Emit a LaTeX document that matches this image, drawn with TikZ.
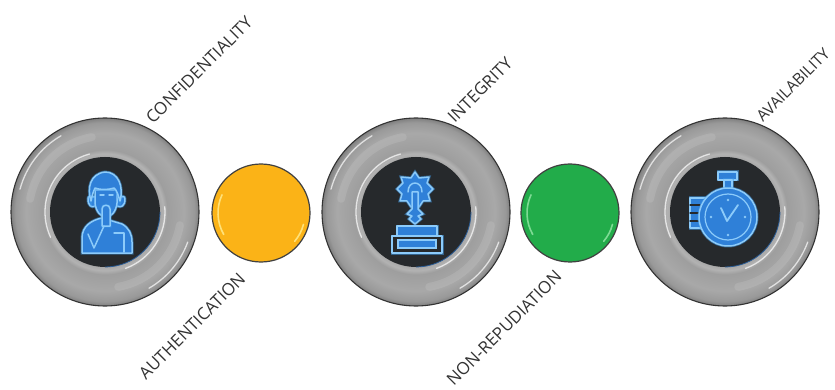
\documentclass[tikz,border=0pt]{standalone}
\usepackage{fontspec}
\usetikzlibrary{calc}
\setmainfont{Open Sans}
\definecolor{hub}{HTML}{26292C}
\definecolor{iconfill}{HTML}{2F80D8}
\definecolor{iconline}{HTML}{8CCBFA}
\definecolor{iconglow}{HTML}{3F9BEA}
\definecolor{amber}{HTML}{FBB317}
\definecolor{amberhi}{HTML}{FFE27A}
\definecolor{leaf}{HTML}{22AC4A}
\definecolor{leafhi}{HTML}{7FDB95}
\definecolor{labelcol}{HTML}{333333}
\definecolor{rimblue}{HTML}{2A5C96}
\pgfdeclareradialshading{ringshade}{\pgfpointorigin}{
  rgb(0bp)=(0.66,0.66,0.66);
  rgb(14.6bp)=(0.66,0.66,0.66);
  rgb(15.5bp)=(0.70,0.70,0.70);
  rgb(16.6bp)=(0.62,0.62,0.62);
  rgb(21bp)=(0.66,0.66,0.66);
  rgb(23.8bp)=(0.60,0.60,0.60);
  rgb(25bp)=(0.50,0.50,0.50);
  rgb(50bp)=(0.50,0.50,0.50)}
\tikzset{
  bigring/.style={circle,minimum size=188pt,inner sep=0pt,shading=ringshade},
  ringedge/.style={circle,draw=black!80,line width=1.1pt,minimum size=188pt,inner sep=0pt},
  hubdisc/.style={circle,draw=none,minimum size=110pt,inner sep=0pt,fill=hub},
  smalldisc/.style={circle,draw=black!75,line width=1.2pt,minimum size=98pt,inner sep=0pt},
  sheen/.style={white,line width=1.3pt,opacity=.7,line cap=round},
  soft/.style={white,line width=8pt,opacity=.10,line cap=round},
  lab/.style={rotate=45,font=\fontsize{17}{18}\selectfont,text=labelcol,inner sep=0pt},
  ico/.style={draw=iconline,fill=iconfill,line width=1.5pt,line join=round,
    preaction={draw=iconglow,line width=3pt,opacity=.5}},
  icol/.style={draw=iconline,line width=1.5pt,line cap=round,line join=round}
}
\newcommand{\ringdeco}[1]{%
  \begin{scope}[shift={(#1)}]
    \draw[soft] (190:76) arc (190:260:76);
    \draw[soft] (10:76) arc (10:80:76);
    \draw[sheen] (155:60) arc (155:255:60);
    \draw[sheen] (-5:60) arc (-5:70:60);
    \draw[sheen] (195:88) arc (195:240:88);
    \draw[sheen] (20:88) arc (20:60:88);
    \draw[rimblue,line width=.8pt] (0:55) arc (0:90:55);
  \end{scope}}
\begin{document}
\begin{tikzpicture}[x=1pt,y=-1pt]
\useasboundingbox (0,0) rectangle (835,390);
\fill[white] (0,0) rectangle (835,390);
% rings
\node[bigring] (r1) at (105,212) {};
\node[bigring] (r2) at (416,212) {};
\node[bigring] (r3) at (725,212) {};
\node[ringedge] at (r1) {};
\node[ringedge] at (r2) {};
\node[ringedge] at (r3) {};
\node[hubdisc] (h1) at (105,212) {};
\node[hubdisc] (h2) at (416,212) {};
\node[hubdisc] (h3) at (725,212) {};
\ringdeco{105,212}\ringdeco{416,212}\ringdeco{725,212}
% small discs
\node[smalldisc,fill=amber] (y) at (261,213) {};
\node[smalldisc,fill=leaf] (g) at (570,213) {};
\draw[amberhi,line width=1.6pt,line cap=round] ($(y)+(150:43)$) arc (150:205:43);
\draw[amberhi,line width=1.6pt,line cap=round] ($(y)+(15:44)$) arc (15:40:44);
\draw[leafhi,line width=1.6pt,line cap=round] ($(g)+(150:43)$) arc (150:205:43);
\draw[leafhi,line width=1.6pt,line cap=round] ($(g)+(15:44)$) arc (15:40:44);
% icon 1: person
\path[ico] (82,253) -- (82,238) .. controls (82,226) and (92,220) .. (102,218)
  -- (112,221) -- (122,224) .. controls (129,228) and (132,234) .. (132,242) -- (132,253) -- cycle;
\path[ico] (88,199) .. controls (88,206) and (92,208) .. (95,206) -- (117,206) .. controls (121,208) and (125,206) .. (125,199)
  .. controls (125,196) and (122,196) .. (121,197) -- (92,197) .. controls (90,196) and (88,196) .. (88,199) -- cycle;
\path[ico] (95,190) -- (95,203) .. controls (96,212) and (101,217) .. (106,217) .. controls (111,217) and (116,212) .. (117,203) -- (117,190) -- cycle;
\path[ico] (91,201) .. controls (87,188) and (90,174) .. (105,172) .. controls (118,172) and (124,186) .. (120,201)
  .. controls (118,195) and (117,190) .. (114,188) .. controls (108,190) and (100,190) .. (95,188) .. controls (93,192) and (92,196) .. (91,201) -- cycle;
\draw[icol] (100,195) -- (104,195) (109,195) -- (113,195);
\path[ico] (102,226) -- (102,209) .. controls (102,204) and (110,204) .. (110,209) -- (110,226) -- cycle;
\draw[icol] (88,234) -- (94,248) -- (104,226);
\draw[icol] (114,233) -- (124,233) -- (124,252);
% icon 2: gear, stem, plaque
\path[ico] (415,172) -- (419,178) -- (429,177) -- (427,183) -- (433,189) -- (428,194) -- (430,201) -- (423,201) -- (419,207)
  -- (411,207) -- (407,201) -- (400,201) -- (402,194) -- (397,189) -- (403,183) -- (401,177) -- (411,178) -- cycle;
\draw[icol] (408,192) .. controls (408,180) and (422,180) .. (422,192);
\path[ico] (412,192) -- (418,192) -- (418,209) -- (423,214) -- (418,216) -- (421,219) -- (415,224) -- (409,219) -- (412,216) -- (407,214) -- (412,209) -- cycle;
\path[ico] (397,236) -- (397,226) -- (437,226) -- (437,236) -- cycle;
\path[ico,fill=hub] (392,236) rectangle (442,253);
\path[draw=iconline,fill=iconfill,line width=1.2pt] (398,240) rectangle (436,248);
% icon 3: stopwatch
\path[ico] (718,172) rectangle (737,180);
\path[ico] (724,180) rectangle (732,189);
\path[ico] (690,198) -- (710,198) -- (710,228) -- (690,228) -- cycle;
\draw[icol,draw=hub,line width=1.2pt] (690,205) -- (700,205) (690,213) -- (700,213) (690,221) -- (700,221);
\node[circle,ico,minimum size=58pt,inner sep=0pt] (w) at (728,217) {};
\node[circle,draw=iconline,line width=1.2pt,minimum size=46pt,inner sep=0pt] (wi) at (728,217) {};
\draw[icol,line width=1.8pt] (721,208) -- (727,221) -- (738,205);
\fill[iconline] (728,200) circle (1.4) (728,235) circle (1.4) (711,217) circle (1.4) (745,217) circle (1.4);
% labels
\node[lab] (l1) at (199,70) {CONFIDENTIALITY};
\node[lab] (l2) at (192,326) {AUTHENTICATION};
\node[lab] (l3) at (480,90) {INTEGRITY};
\node[lab] (l4) at (504,328) {NON-REPUDIATION};
\node[lab,font=\fontsize{15.8}{18}\selectfont] (l5) at (793,85) {AVAILABILITY};
\end{tikzpicture}
\end{document}
